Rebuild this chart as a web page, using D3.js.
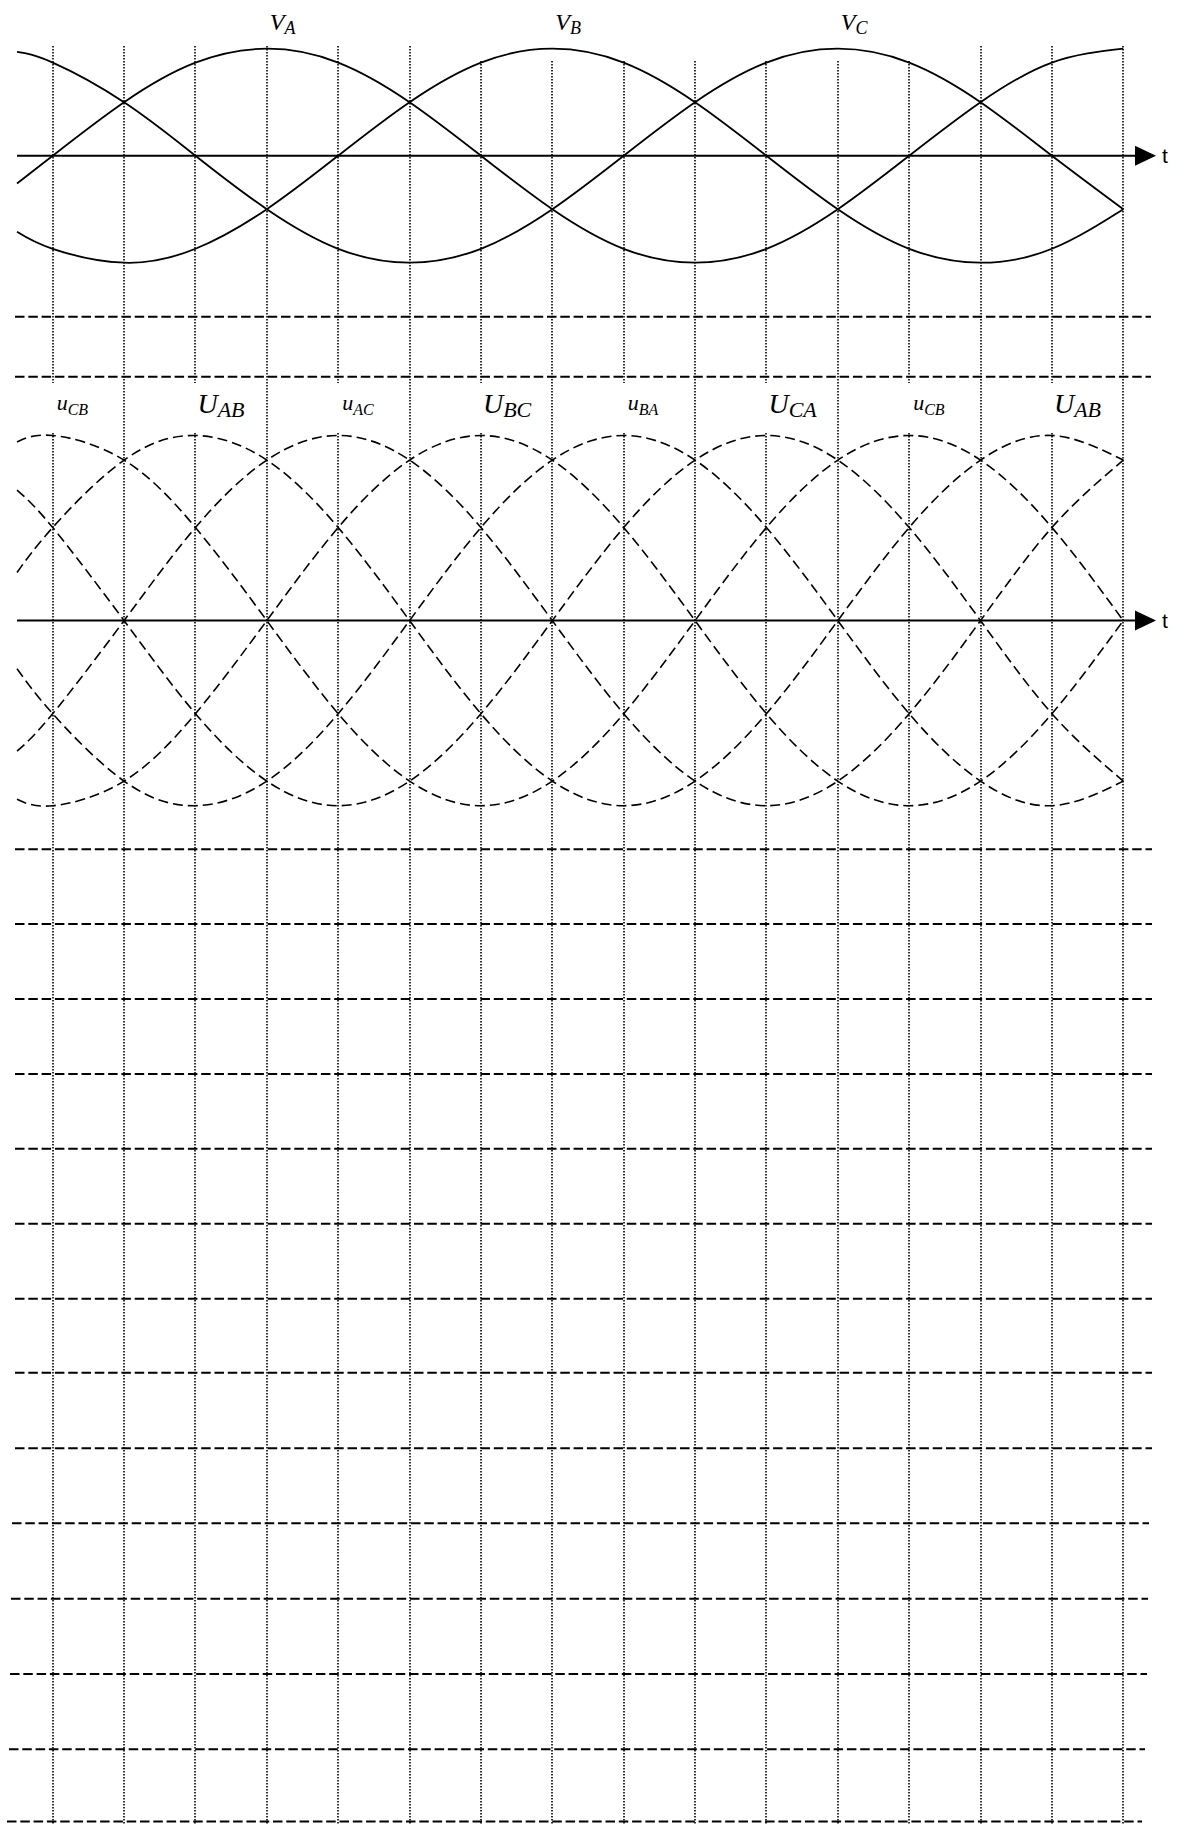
<!DOCTYPE html>
<html>
<head>
<meta charset="utf-8">
<script src="https://cdn.jsdelivr.net/npm/d3@7"></script>
<style>
  html, body { margin: 0; padding: 0; background: #fff; }
  svg { display: block; }
</style>
</head>
<body>
<svg id="chart" width="1178" height="1825"></svg>
<script>
// phase angle samples (degrees), one every grid column plus the left edge
const angles = [-15, 0, 30, 60, 90, 120, 150, 180, 210, 240, 270, 300, 330, 360, 390, 420, 450];

// phase voltages (per unit of phase amplitude)
const vA = [-0.26, 0, 0.5, 0.87, 1, 0.87, 0.5, 0, -0.5, -0.87, -1, -0.87, -0.5, 0, 0.5, 0.87, 1];
const vB = [-0.71, -0.87, -1, -0.87, -0.5, 0, 0.5, 0.87, 1, 0.87, 0.5, 0, -0.5, -0.87, -1, -0.87, -0.5];
const vC = [0.97, 0.87, 0.5, 0, -0.5, -0.87, -1, -0.87, -0.5, 0, 0.5, 0.87, 1, 0.87, 0.5, 0, -0.5];

// line voltages (same unit)
const uCB = [1.67, 1.73, 1.5, 0.87, 0, -0.87, -1.5, -1.73, -1.5, -0.87, 0, 0.87, 1.5, 1.73, 1.5, 0.87, 0];
const uAB = [0.45, 0.87, 1.5, 1.73, 1.5, 0.87, 0, -0.87, -1.5, -1.73, -1.5, -0.87, 0, 0.87, 1.5, 1.73, 1.5];
const uAC = [-1.22, -0.87, 0, 0.87, 1.5, 1.73, 1.5, 0.87, 0, -0.87, -1.5, -1.73, -1.5, -0.87, 0, 0.87, 1.5];
const uBC = [-1.67, -1.73, -1.5, -0.87, 0, 0.87, 1.5, 1.73, 1.5, 0.87, 0, -0.87, -1.5, -1.73, -1.5, -0.87, 0];
const uBA = [-0.45, -0.87, -1.5, -1.73, -1.5, -0.87, 0, 0.87, 1.5, 1.73, 1.5, 0.87, 0, -0.87, -1.5, -1.73, -1.5];
const uCA = [1.22, 0.87, 0, -0.87, -1.5, -1.73, -1.5, -0.87, 0, 0.87, 1.5, 1.73, 1.5, 0.87, 0, -0.87, -1.5];

// labels: [main letter, subscript, angle of the column it sits on, big?]
const phaseLabels = [["V", "A", 90], ["V", "B", 210], ["V", "C", 330]];
const lineLabels = [
    ["u", "CB", 0, false], ["U", "AB", 60, true], ["u", "AC", 120, false], ["U", "BC", 180, true],
    ["u", "BA", 240, false], ["U", "CA", 300, true], ["u", "CB", 360, false], ["U", "AB", 420, true]
];

// grid columns every 30 degrees
const gridAngles = d3.range(0, 451, 30);

// worksheet rows (y, x start, x end)
const rows = [
    [316.7, 15, 1151], [376.7, 15, 1151],
    [849.3, 15, 1152], [924, 15, 1152], [999, 15, 1152], [1074, 15, 1152],
    [1148.7, 15, 1152], [1223.7, 15, 1152], [1298.7, 15, 1152], [1372.7, 15, 1152],
    [1448.3, 15, 1152], [1523.3, 12, 1149], [1598.7, 11, 1148], [1674, 10, 1147],
    [1749.3, 9, 1145], [1821.5, 7, 1142]
];

const svg = d3.select("#chart");
const x = d3.scaleLinear().domain([0, 450]).range([52.7, 1123.3]);
const yTop = d3.scaleLinear().domain([-1, 1]).range([155.7 + 107, 155.7 - 107]);
const yBot = d3.scaleLinear().domain([-1, 1]).range([620.6 + 107, 620.6 - 107]);

// vertical dotted grid
const gridTop = a => (a >= 180 && a <= 360) ? 61 : 45.7;
gridAngles.forEach((a, i) => {
    const gx = Math.round(x(a));
    const segs = (i % 2 === 0) ? [[gridTop(a), 383], [433, 1825]] : [[gridTop(a), 1825]];
    segs.forEach(s => {
        svg.append("line")
            .attr("x1", gx).attr("x2", gx)
            .attr("y1", Math.round(s[0])).attr("y2", s[1])
            .attr("stroke", "#000")
            .attr("stroke-width", 1.6)
            .attr("stroke-dasharray", "1.5,1.5");
    });
});

// horizontal dashed rows
svg.selectAll(".row")
    .data(rows)
    .enter().append("line")
    .attr("class", "row")
    .attr("x1", d => d[1]).attr("x2", d => d[2])
    .attr("y1", d => d[0]).attr("y2", d => d[0])
    .attr("stroke", "#000")
    .attr("stroke-width", 2)
    .attr("stroke-dasharray", "9.5,3.8");

// axes with arrow heads
function axis(y0) {
    svg.append("line")
        .attr("x1", 17).attr("x2", 1137)
        .attr("y1", y0).attr("y2", y0)
        .attr("stroke", "#000").attr("stroke-width", 2);
    svg.append("path")
        .attr("d", `M1135,${y0 - 10} L1156,${y0} L1135,${y0 + 10} Z`)
        .attr("fill", "#000");
    svg.append("text")
        .attr("x", 1162).attr("y", y0 + 7)
        .attr("font-family", "Liberation Sans, Arial, sans-serif")
        .attr("font-size", 21)
        .text("t");
}
axis(yTop(0));
axis(yBot(0));

// phase curves (solid)
const lineTop = d3.line().x((d, i) => x(angles[i])).y(d => yTop(d)).curve(d3.curveNatural);
[vA, vB, vC].forEach(s => {
    svg.append("path")
        .attr("d", lineTop(s))
        .attr("fill", "none")
        .attr("stroke", "#000")
        .attr("stroke-width", 1.8);
});

// line voltage curves (dashed)
const lineBot = d3.line().x((d, i) => x(angles[i])).y(d => yBot(d)).curve(d3.curveNatural);
[uCB, uAB, uAC, uBC, uBA, uCA].forEach(s => {
    svg.append("path")
        .attr("d", lineBot(s))
        .attr("fill", "none")
        .attr("stroke", "#000")
        .attr("stroke-width", 1.6)
        .attr("stroke-dasharray", "10,5");
});

// labels
const serif = "Liberation Serif, Times New Roman, serif";
phaseLabels.forEach(d => {
    const t = svg.append("text")
        .attr("x", x(d[2]) + 3).attr("y", 30)
        .attr("font-family", serif).attr("font-style", "italic")
        .attr("font-size", 24);
    t.append("tspan").text(d[0]);
    t.append("tspan").attr("font-size", 18).attr("dy", 4).text(d[1]);
});
lineLabels.forEach(d => {
    const big = d[3];
    const t = svg.append("text")
        .attr("x", x(d[2]) + (big ? 2 : 4)).attr("y", big ? 413 : 410)
        .attr("font-family", serif).attr("font-style", "italic")
        .attr("font-size", big ? 28 : 22);
    t.append("tspan").text(d[0]);
    t.append("tspan").attr("font-size", big ? 22 : 16).attr("dy", big ? 4 : 5).text(d[1]);
});
</script>
</body>
</html>
